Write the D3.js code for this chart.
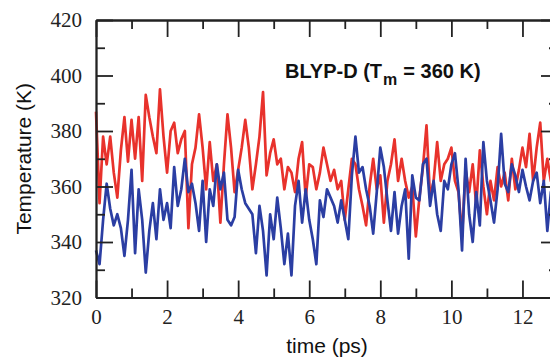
<!DOCTYPE html>
<html>
<head>
<meta charset="utf-8">
<script src="https://cdn.jsdelivr.net/npm/d3@7"></script>
<style>
  body { margin: 0; background: #fff; }
  svg { display: block; }
  .tick text { font-family: "Liberation Serif", "Times New Roman", serif; font-size: 21px; fill: #222; }
  .lbl { font-family: "Liberation Sans", Arial, sans-serif; font-size: 21px; fill: #111; }
</style>
</head>
<body>
<div id="chart"></div>
<script>
const dt = 0.1;
const red = [
  387,354,378,368,378,365,356,373,385,369,
  384,370,385,362,393,385,378,372,395,378,
  365,380,383,372,377,380,345,368,374,386,
  374,359,376,362,368,347,368,386,374,358,
  366,374,384,374,359,368,378,394,364,372,
  377,368,370,359,367,365,358,370,376,356,
  368,367,359,365,374,368,362,366,359,362,
  348,359,370,368,359,353,346,360,370,359,
  364,347,362,368,377,362,370,362,356,360,
  342,356,367,382,356,362,376,362,368,370,
  374,362,358,342,366,358,368,353,373,360,
  350,362,355,367,360,365,355,370,359,366,
  374,367,379,362,374,383,362,370,362,366,
  362
];
const blue = [
  337,332,348,361,352,346,350,345,335,348,
  366,336,359,348,329,344,354,341,359,348,
  354,345,367,353,359,370,358,361,354,344,
  362,340,359,353,368,359,365,348,346,349,
  366,359,354,352,350,336,353,344,328,350,
  341,356,345,332,343,328,353,362,347,359,
  348,341,332,355,349,359,356,353,347,355,
  348,341,364,378,365,367,359,353,343,358,
  374,367,355,344,358,343,353,359,334,364,
  356,355,368,370,353,362,350,344,362,359,
  368,372,359,337,370,350,340,358,346,376,
  362,355,347,359,379,361,358,368,364,358,
  366,360,355,362,365,354,362,344,358,362,
  355
];
const xMajor = [0, 2, 4, 6, 8, 10, 12];
const xMinor = [1, 3, 5, 7, 9, 11, 13];
const yMajor = [320, 340, 360, 380, 400, 420];
const yMinor = [330, 350, 370, 390, 410];

const W = 550, H = 358;
const m = { top: 20, left: 96, right: 558, bottom: 297.5 };

const svg = d3.select('#chart').append('svg')
  .attr('width', W)
  .attr('height', H);

// SCALES
const x = d3.scaleLinear().domain([0, 13]).range([m.left, m.right]);
const y = d3.scaleLinear().domain([320, 420]).range([m.bottom, m.top]);

// LINES
const line = d3.line()
  .x((d, i) => x(i * dt))
  .y(d => y(d));

svg.append('path').datum(red)
  .attr('fill', 'none')
  .attr('stroke', '#e8322c')
  .attr('stroke-width', 2.7)
  .attr('stroke-linejoin', 'round')
  .attr('d', line);

svg.append('path').datum(blue)
  .attr('fill', 'none')
  .attr('stroke', '#2b3ea3')
  .attr('stroke-width', 2.7)
  .attr('stroke-linejoin', 'round')
  .attr('d', line);

// AXES (ticks pointing inward)
function styleAxis(g) {
  g.select('.domain').attr('stroke', '#222').attr('stroke-width', 1.8);
  g.selectAll('.tick line').attr('stroke', '#222').attr('stroke-width', 1.8);
}

svg.append('g').attr('transform', `translate(0,${m.bottom})`)
  .call(d3.axisBottom(x).tickValues(xMajor).tickFormat(d3.format('d'))
    .tickSizeInner(-17).tickSizeOuter(0).tickPadding(12))
  .call(styleAxis);
svg.append('g').attr('transform', `translate(0,${m.bottom})`)
  .call(d3.axisBottom(x).tickValues(xMinor).tickFormat('').tickSizeInner(-9).tickSizeOuter(0))
  .call(styleAxis);

svg.append('g').attr('transform', `translate(0,${m.top})`)
  .call(d3.axisTop(x).tickValues(xMajor).tickFormat('').tickSizeInner(-17).tickSizeOuter(0))
  .call(styleAxis);
svg.append('g').attr('transform', `translate(0,${m.top})`)
  .call(d3.axisTop(x).tickValues(xMinor).tickFormat('').tickSizeInner(-9).tickSizeOuter(0))
  .call(styleAxis);

svg.append('g').attr('transform', `translate(${m.left},0)`)
  .call(d3.axisLeft(y).tickValues(yMajor).tickFormat(d3.format('d'))
    .tickSizeInner(-17).tickSizeOuter(0).tickPadding(14))
  .call(styleAxis);
svg.append('g').attr('transform', `translate(${m.left},0)`)
  .call(d3.axisLeft(y).tickValues(yMinor).tickFormat('').tickSizeInner(-9).tickSizeOuter(0))
  .call(styleAxis);

svg.append('g').attr('transform', `translate(${m.right},0)`)
  .call(d3.axisRight(y).tickValues(yMajor).tickFormat('').tickSizeInner(-17).tickSizeOuter(0))
  .call(styleAxis);
svg.append('g').attr('transform', `translate(${m.right},0)`)
  .call(d3.axisRight(y).tickValues(yMinor).tickFormat('').tickSizeInner(-9).tickSizeOuter(0))
  .call(styleAxis);

svg.selectAll('.tick text').attr('font-family', null).attr('font-size', null);

// LABELS
svg.append('text').attr('class', 'lbl')
  .attr('x', (m.left + m.right) / 2).attr('y', 353)
  .attr('text-anchor', 'middle')
  .text('time (ps)');

svg.append('text').attr('class', 'lbl')
  .attr('transform', `translate(31,${(m.top + m.bottom) / 2}) rotate(-90)`)
  .attr('text-anchor', 'middle')
  .text('Temperature (K)');

// TITLE
const title = svg.append('text')
  .attr('x', 285).attr('y', 78)
  .attr('font-family', '"Liberation Sans", Arial, sans-serif')
  .attr('font-weight', 'bold')
  .attr('font-size', 20)
  .attr('fill', '#111');
title.append('tspan').text('BLYP-D (T');
title.append('tspan').attr('font-size', 16).attr('dy', 7).attr('dx', 1).text('m');
title.append('tspan').attr('dy', -7).attr('dx', 6).text('= 360 K)');
</script>
</body>
</html>
